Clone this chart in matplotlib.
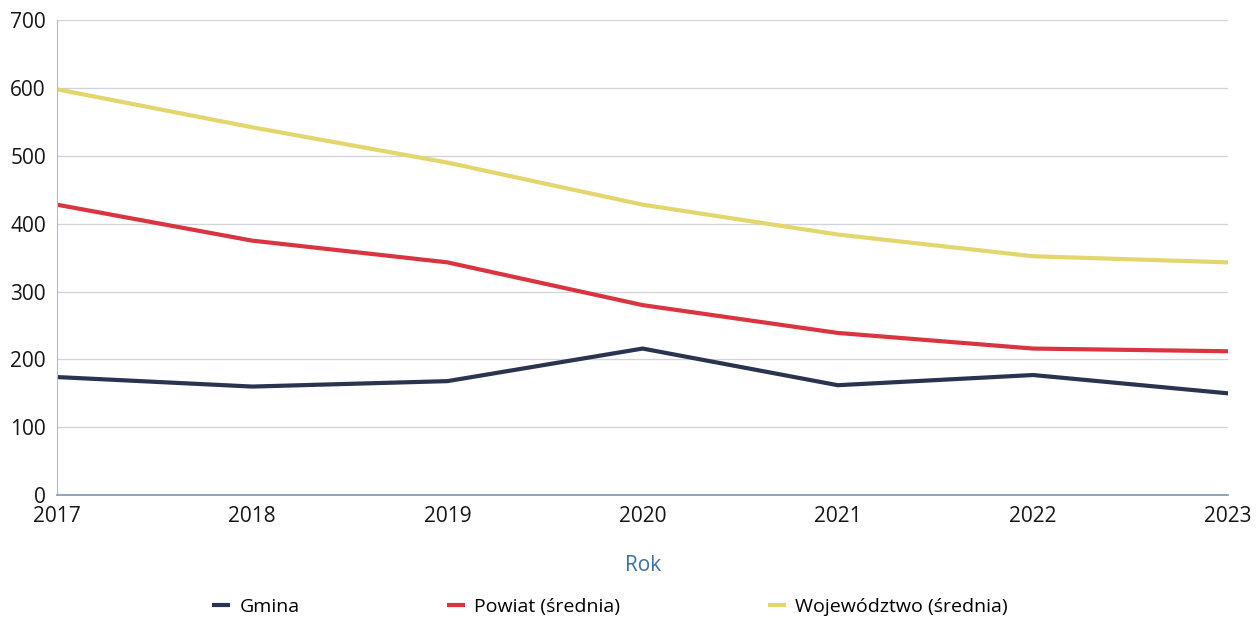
import matplotlib

matplotlib.use("Agg")  # Non-interactive backend
import matplotlib.pyplot as plt

years = [2017, 2018, 2019, 2020, 2021, 2022, 2023]
gmina = [174, 160, 168, 216, 162, 177, 150]
powiat = [428, 375, 343, 280, 239, 216, 212]
wojewodztwo = [598, 542, 490, 428, 384, 352, 343]
labels = ["Gmina", "Powiat (średnia)", "Województwo (średnia)"]
colors = ["#2a3350", "#d9343f", "#e2d66c"]

plt.rcParams["font.family"] = ["Open Sans", "DejaVu Sans"]

fig = plt.figure(figsize=(12.58, 6.26), dpi=100)
ax = fig.add_axes([0.0453, 0.209, 0.931, 0.759])

for vals, lab, col in zip([gmina, powiat, wojewodztwo], labels, colors):
    ax.plot(years, vals, color=col, lw=3, label=lab, solid_capstyle="butt")

ax.set_xlim(years[0], years[-1])
ax.set_ylim(0, 700)
ax.set_xticks(years)
ax.set_yticks(range(0, 701, 100))
ax.grid(axis="y", color="#d0d3d8", lw=0.9)
ax.set_axisbelow(True)
ax.tick_params(length=0, labelsize=15, colors="#161616", pad=8)
ax.tick_params(axis="y", pad=8)

for side in ["top", "right"]:
    ax.spines[side].set_visible(False)
ax.spines["left"].set_color("#a8bdd6")
ax.spines["bottom"].set_color("#7f95ad")
ax.spines["bottom"].set_linewidth(1.2)

ax.set_xlabel("Rok", fontsize=15, color="#3d6fa6", labelpad=20)

handles, _ = ax.get_legend_handles_labels()
fig.legend(handles, labels, loc="lower center", bbox_to_anchor=(0.485, -0.012),
           ncol=3, frameon=False, fontsize=14, handlelength=0.9,
           handletextpad=0.5, columnspacing=7.6)

fig.savefig("out.png", dpi=100, facecolor="white")
